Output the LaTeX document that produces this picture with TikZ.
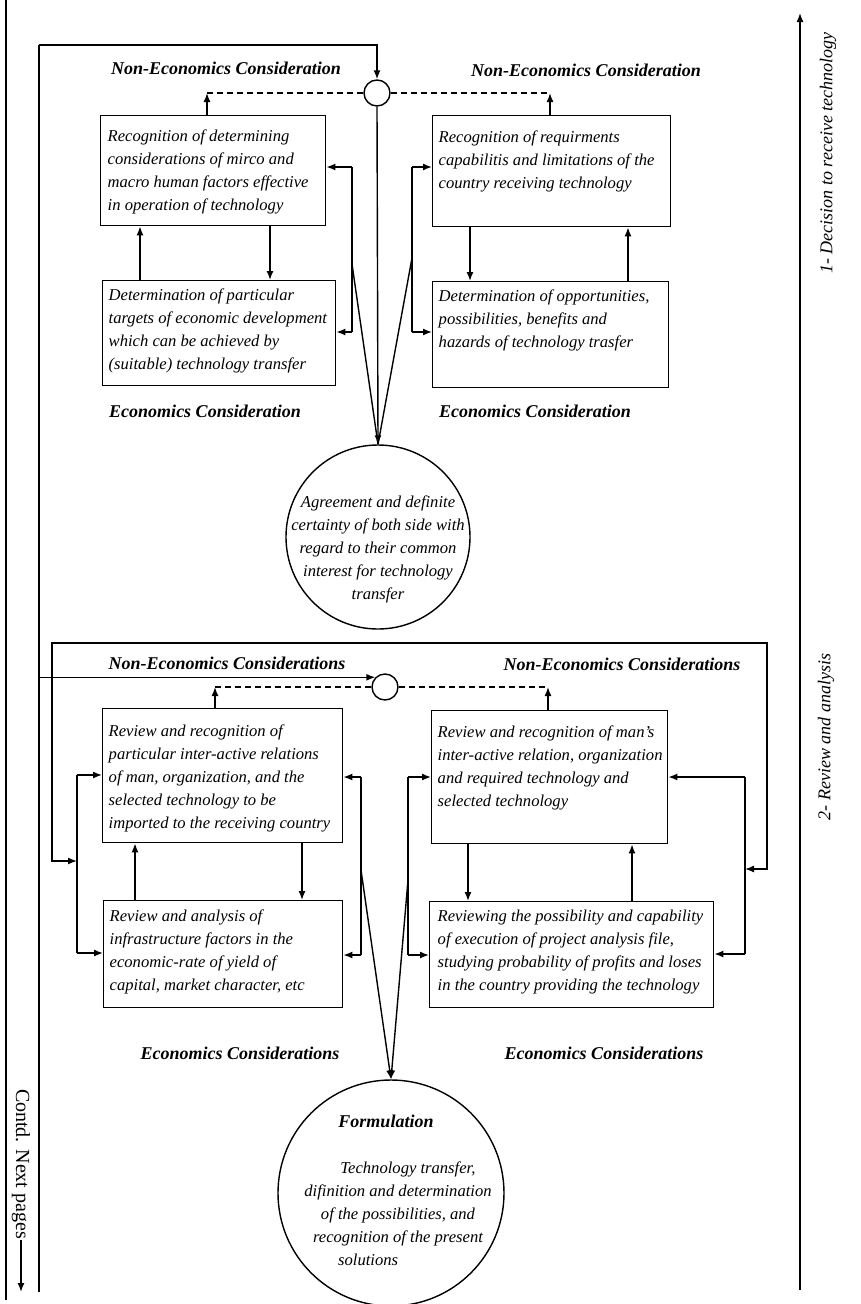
\documentclass[tikz,border=0pt]{standalone}
\usepackage{fontspec}
\setmainfont{Liberation Serif}
\usetikzlibrary{arrows.meta,calc}

\begin{document}
\begin{tikzpicture}[x=1pt,y=-1pt,
  line width=1.4pt,
  arr/.style={-{Latex[length=9pt,width=7pt]}},
  darr/.style={{Latex[length=9pt,width=7pt]}-{Latex[length=9pt,width=7pt]}},
  dashline/.style={dash pattern=on 6pt off 4pt},
  box/.style={draw, rectangle, inner sep=0pt, anchor=north west},
  boxtext/.style={anchor=north west, inner sep=0pt, align=left, font=\fontsize{16.6}{23}\selectfont\itshape},
  circtext/.style={inner sep=0pt, align=center, font=\fontsize{16.6}{23}\selectfont\itshape},
  head/.style={inner sep=0pt, font=\fontsize{18}{22}\selectfont\bfseries\itshape},
  junction/.style={draw, circle, minimum size=26pt, inner sep=0pt},
  goal/.style={draw, circle, inner sep=0pt},
  phase/.style={inner sep=0pt, font=\fontsize{18}{22}\selectfont\itshape, rotate=90},
]
\useasboundingbox (0,0) rectangle (860,1304);
\fill[white] (0,0) rectangle (860,1304);

% ---------- frame lines ----------
\coordinate (pgT) at (6,0);
\coordinate (pgB) at (6,1300);
\coordinate (lt) at (39,45);
\coordinate (lb) at (39,1292);
\coordinate (axB) at (800,1290);
\coordinate (axT) at (800,13);
\draw (pgT) -- (pgB);
\draw (lt) -- (lb);
\draw[arr] (axB) -- (axT);

\node[phase] (ph1) at (828,153) {1- Decision to receive technology};
\node[phase] (ph2) at (826,737) {2- Review and analysis};

\node[inner sep=0pt, font=\fontsize{20}{22}\selectfont, rotate=-90] (contd) at (21,1164) {Contd. Next pages};
\coordinate (cb) at (21,1292);
\draw[arr] (contd.east) -- (contd.east |- cb);

% ================= stage 1 =================
\node[junction] (j1) at (377,93) {};
\node[goal, minimum size=184pt] (g1) at (378,537) {};

\node[box, minimum width=225pt, minimum height=110pt] (A) at (100,115) {};
\node[box, minimum width=233pt, minimum height=105pt] (B) at (102,280) {};
\node[box, minimum width=238pt, minimum height=111pt] (C) at (432,115) {};
\node[box, minimum width=236pt, minimum height=106pt] (D) at (432,281) {};

\node[boxtext] (At) at ($(A.north west)+(7,14)$) {Recognition of determining\\considerations of mirco and\\macro human factors effective\\in operation of technology};
\node[boxtext] (Bt) at ($(B.north west)+(6,8)$) {Determination of particular\\targets of economic development\\which can be achieved by\\(suitable) technology transfer};
\node[boxtext] (Ct) at ($(C.north west)+(6,15)$) {Recognition of requirments\\capabilitis and limitations of the\\country receiving technology};
\node[boxtext] (Dt) at ($(D.north west)+(6,8)$) {Determination of opportunities,\\possibilities, benefits and\\hazards of technology trasfer};

\node[head] (h1) at (226,68) {Non-Economics Consideration};
\node[head] (h2) at (586,70) {Non-Economics Consideration};
\node[head] (h3) at (205,411) {Economics Consideration};
\node[head] (h4) at (535,411) {Economics Consideration};

\node[circtext] (g1t) at (378,549) {Agreement and definite\\certainty of both side with\\regard to their common\\interest for technology\\transfer};

% entry loop and central flow
\draw[arr] (lt) -- (lt -| j1) -- (j1.north);
\draw[arr] (j1.south) -- (g1.north);

% dashed branches to the upper boxes
\coordinate (d1L) at (207,93);
\coordinate (d1R) at (550,93);
\draw[dashline] (j1.west) -- (d1L);
\draw[dashline] (j1.east) -- (d1R);
\draw[arr] (A.north -| d1L) -- (d1L);
\draw[arr] (C.north -| d1R) -- (d1R);

% links between paired boxes
\coordinate (xa1) at (140,0);
\coordinate (xa2) at (270,0);
\coordinate (xc1) at (470,0);
\coordinate (xc2) at (628,0);
\draw[arr] (B.north -| xa1) -- (A.south -| xa1);
\draw[arr] (A.south -| xa2) -- (B.north -| xa2);
\draw[arr] (C.south -| xc1) -- (D.north -| xc1);
\draw[arr] (D.north -| xc2) -- (C.south -| xc2);

% side feeds and converging lines
\coordinate (s1a) at (352,167);
\coordinate (s1b) at (352,332);
\coordinate (s1c) at (412,167);
\coordinate (s1d) at (412,332);
\draw[arr] (s1a) -- (s1a -| A.east);
\draw[arr] (s1b) -- (s1b -| B.east);
\draw (s1a) -- (s1b);
\draw[arr] (s1c) -- (s1c -| C.west);
\draw[arr] (s1d) -- (s1d -| D.west);
\draw (s1c) -- (s1d);
\coordinate (v1L) at (352,264);
\coordinate (v1R) at (412,258);
\draw (v1L) -- (g1.north);
\draw (v1R) -- (g1.north);

% ================= stage 2 =================
\node[junction] (j2) at (385,687) {};
\node[goal, minimum size=226pt] (g2) at (391,1193) {};

\node[box, minimum width=240pt, minimum height=134pt] (E) at (102,708) {};
\node[box, minimum width=239pt, minimum height=107pt] (F) at (103,900) {};
\node[box, minimum width=236pt, minimum height=133pt] (G) at (431,710) {};
\node[box, minimum width=284pt, minimum height=106pt] (H) at (429,901) {};

\node[boxtext] (Et) at ($(E.north west)+(6,16)$) {Review and recognition of\\particular inter-active relations\\of man, organization, and the\\selected technology to be\\imported to the receiving country};
\node[boxtext] (Ft) at ($(F.north west)+(6,9)$) {Review and analysis of\\infrastructure factors in the\\economic-rate of yield of\\capital, market character, etc};
\node[boxtext] (Gt) at ($(G.north west)+(6,15)$) {Review and recognition of man's\\inter-active relation, organization\\and required technology and\\selected technology};
\node[boxtext] (Ht) at ($(H.north west)+(8,8)$) {Reviewing the possibility and capability\\of execution of project analysis file,\\studying probability of profits and loses\\in the country providing the technology};

\node[head] (h5) at (227,663) {Non-Economics Considerations};
\node[head] (h6) at (622,664) {Non-Economics Considerations};
\node[head] (h7) at (240,1053) {Economics Considerations};
\node[head] (h8) at (604,1053) {Economics Considerations};

\node[head] (g2h) at (386,1121) {Formulation};
\node[circtext] (g2t) at (398,1214) {\hspace*{1.2em}Technology transfer,\\difinition and determination\\of the possibilities, and\\recognition of the present\\solutions\hspace*{3.6em}};

% entry from the left line
\draw[arr] (j2.135 -| lt) -- (j2.135);

% dashed branches
\coordinate (d2L) at (215,687);
\coordinate (d2R) at (548,687);
\draw[dashline] (j2.west) -- (d2L);
\draw[dashline] (j2.east) -- (d2R);
\draw[arr] (E.north -| d2L) -- (d2L);
\draw[arr] (G.north -| d2R) -- (d2R);

% links between paired boxes
\coordinate (xe1) at (135,0);
\coordinate (xe2) at (302,0);
\coordinate (xg1) at (468,0);
\coordinate (xg2) at (632,0);
\draw[arr] (F.north -| xe1) -- (E.south -| xe1);
\draw[arr] (E.south -| xe2) -- (F.north -| xe2);
\draw[arr] (G.south -| xg1) -- (H.north -| xg1);
\draw[arr] (H.north -| xg2) -- (G.south -| xg2);

% central feeds and converging arrows
\coordinate (s2a) at (361,777);
\coordinate (s2b) at (361,955);
\coordinate (s2c) at (408,777);
\coordinate (s2d) at (408,955);
\draw[arr] (s2a) -- (s2a -| E.east);
\draw[arr] (s2b) -- (s2b -| F.east);
\draw (s2a) -- (s2b);
\draw[arr] (s2c) -- (s2c -| G.west);
\draw[arr] (s2d) -- (s2d -| H.west);
\draw (s2c) -- (s2d);
\coordinate (v2L) at (361,870);
\coordinate (v2R) at (408,880);
\draw[arr] (v2L) -- (g2.north);
\draw[arr] (v2R) -- (g2.north);

% outer feeds
\coordinate (f1a) at (77,775);
\coordinate (f1b) at (77,953);
\coordinate (f2a) at (745,777);
\coordinate (f2b) at (745,954);
\draw[arr] (f1a) -- (f1a -| E.west);
\draw[arr] (f1b) -- (f1b -| F.west);
\draw (f1a) -- (f1b);
\draw[arr] (f2a) -- (f2a -| G.east);
\draw[arr] (f2b) -- (f2b -| H.east);
\draw (f2a) -- (f2b);

% bracket joining the outer feeds
\coordinate (fL) at (77,861);
\coordinate (bk1) at (52,861);
\coordinate (bk2) at (52,643);
\coordinate (bk3) at (767,643);
\coordinate (bk4) at (767,869);
\coordinate (fR) at (745,869);
\draw[darr] (fL) -- (bk1) -- (bk2) -- (bk3) -- (bk4) -- (fR);

\end{tikzpicture}
\end{document}
